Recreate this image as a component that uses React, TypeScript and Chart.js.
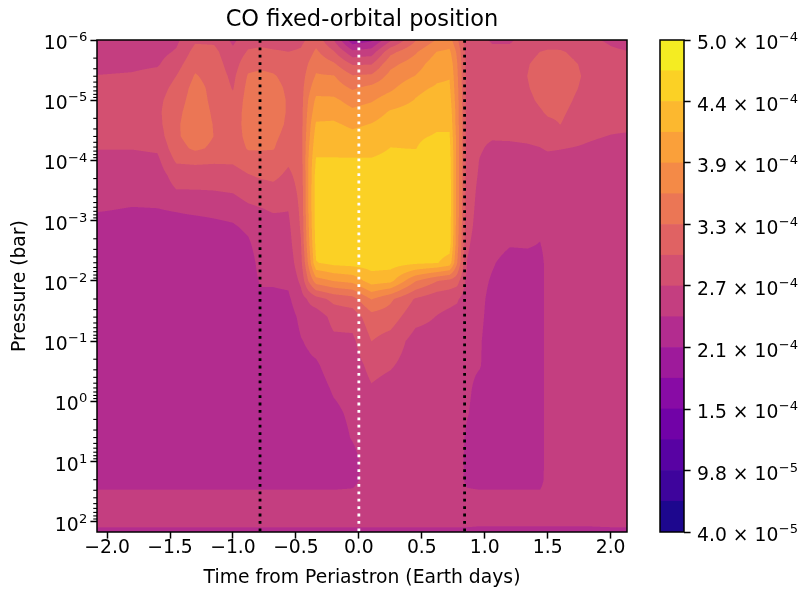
import React, { useEffect, useRef } from "react";
import { Chart, registerables } from "chart.js";

Chart.register(...registerables);

const FONT = "'DejaVu Sans', sans-serif";
const FS = 18.75; // 10 pt at the figure's resolution
const SUP = 13.1; // superscript size

// ---- data -------------------------------------------------------------
// time from periastron (Earth days) of each model column
const times = [-2.08, -1.8, -1.6, -1.45, -1.3, -1.15, -1.0, -0.88, -0.78, -0.68, -0.56, -0.46, -0.4, -0.34, -0.2, -0.05, 0.1, 0.25, 0.45, 0.62, 0.72, 0.78, 0.86, 0.96, 1.06, 1.2, 1.34, 1.44, 1.5, 1.6, 1.8, 2.0, 2.13];

// log10 of pressure (bar) of each model level, top of atmosphere first
const logPressures = [-6.0, -5.8, -5.6, -5.4, -5.2, -5.0, -4.8, -4.6, -4.4, -4.2, -4.0, -3.75, -3.5, -3.2, -2.9, -2.6, -2.3, -2.0, -1.7, -1.4, -1.0, -0.6, -0.2, 0.2, 0.6, 1.0, 1.3, 1.6, 1.9, 2.05, 2.17];

// CO abundance (units of 1e-4), one profile per time column, same order as logPressures
const coProfiles: number[][] = [
  /* -2.08 */ [2.53, 2.56, 2.61, 2.71, 2.82, 2.84, 2.84, 2.82, 2.79, 2.71, 2.61, 2.56, 2.53, 2.44, 2.30, 2.27, 2.27, 2.27, 2.27, 2.27, 2.27, 2.27, 2.27, 2.27, 2.27, 2.27, 2.30, 2.50, 2.56, 2.47, 2.30],
  /* -1.80 */ [2.53, 2.59, 2.64, 2.73, 2.84, 2.87, 2.87, 2.84, 2.79, 2.71, 2.61, 2.56, 2.53, 2.40, 2.30, 2.27, 2.27, 2.27, 2.27, 2.27, 2.27, 2.27, 2.27, 2.27, 2.27, 2.27, 2.30, 2.50, 2.56, 2.47, 2.30],
  /* -1.60 */ [2.56, 2.61, 2.67, 2.79, 2.87, 2.92, 2.93, 2.90, 2.84, 2.74, 2.64, 2.56, 2.53, 2.41, 2.30, 2.27, 2.27, 2.27, 2.27, 2.27, 2.27, 2.27, 2.27, 2.27, 2.27, 2.27, 2.30, 2.50, 2.56, 2.47, 2.30],
  /* -1.45 */ [2.64, 2.73, 2.87, 2.99, 3.07, 3.13, 3.19, 3.23, 3.23, 3.16, 3.03, 2.82, 2.69, 2.44, 2.30, 2.27, 2.27, 2.27, 2.27, 2.27, 2.27, 2.27, 2.27, 2.27, 2.27, 2.27, 2.30, 2.50, 2.56, 2.47, 2.30],
  /* -1.30 */ [2.94, 3.09, 3.20, 3.30, 3.38, 3.42, 3.45, 3.45, 3.42, 3.33, 3.05, 2.84, 2.69, 2.48, 2.30, 2.27, 2.27, 2.27, 2.27, 2.27, 2.27, 2.27, 2.27, 2.27, 2.27, 2.27, 2.30, 2.50, 2.56, 2.47, 2.30],
  /* -1.15 */ [2.93, 3.07, 3.13, 3.16, 3.19, 3.20, 3.23, 3.26, 3.27, 3.22, 3.03, 2.84, 2.70, 2.50, 2.34, 2.27, 2.27, 2.27, 2.27, 2.27, 2.27, 2.27, 2.27, 2.27, 2.27, 2.27, 2.30, 2.50, 2.56, 2.47, 2.30],
  /* -1.00 */ [2.64, 2.76, 2.84, 2.92, 2.97, 3.05, 3.10, 3.13, 3.13, 3.10, 3.03, 2.87, 2.73, 2.53, 2.38, 2.27, 2.27, 2.27, 2.27, 2.27, 2.27, 2.27, 2.27, 2.27, 2.27, 2.27, 2.30, 2.50, 2.56, 2.47, 2.30],
  /* -0.88 */ [2.87, 3.02, 3.19, 3.30, 3.36, 3.39, 3.40, 3.39, 3.36, 3.30, 3.13, 2.97, 2.84, 2.64, 2.47, 2.36, 2.27, 2.27, 2.27, 2.27, 2.27, 2.27, 2.27, 2.27, 2.27, 2.27, 2.30, 2.50, 2.56, 2.47, 2.30],
  /* -0.78 */ [2.90, 3.05, 3.22, 3.33, 3.39, 3.42, 3.42, 3.40, 3.38, 3.30, 3.16, 3.02, 2.87, 2.69, 2.59, 2.56, 2.51, 2.44, 2.36, 2.27, 2.27, 2.27, 2.27, 2.27, 2.27, 2.27, 2.30, 2.50, 2.56, 2.47, 2.30],
  /* -0.68 */ [2.87, 3.02, 3.19, 3.30, 3.36, 3.39, 3.39, 3.38, 3.33, 3.29, 3.16, 3.05, 2.90, 2.73, 2.61, 2.59, 2.53, 2.44, 2.36, 2.27, 2.27, 2.27, 2.27, 2.27, 2.27, 2.27, 2.30, 2.50, 2.56, 2.47, 2.30],
  /* -0.56 */ [2.87, 2.99, 3.10, 3.19, 3.23, 3.25, 3.25, 3.23, 3.19, 3.12, 3.03, 2.93, 2.84, 2.71, 2.64, 2.59, 2.53, 2.46, 2.37, 2.30, 2.27, 2.27, 2.27, 2.27, 2.27, 2.27, 2.30, 2.50, 2.56, 2.47, 2.30],
  /* -0.46 */ [2.93, 3.02, 3.07, 3.13, 3.16, 3.16, 3.16, 3.16, 3.16, 3.15, 3.13, 3.10, 3.07, 3.05, 3.02, 2.97, 2.90, 2.76, 2.59, 2.47, 2.40, 2.36, 2.30, 2.27, 2.27, 2.27, 2.30, 2.50, 2.56, 2.47, 2.30],
  /* -0.40 */ [3.02, 3.16, 3.29, 3.39, 3.48, 3.58, 3.65, 3.71, 3.76, 3.82, 3.86, 3.86, 3.86, 3.86, 3.82, 3.76, 3.62, 3.29, 2.73, 2.56, 2.44, 2.37, 2.30, 2.27, 2.27, 2.27, 2.30, 2.50, 2.56, 2.47, 2.30],
  /* -0.34 */ [3.16, 3.33, 3.48, 3.59, 3.74, 3.91, 4.02, 4.17, 4.27, 4.35, 4.45, 4.54, 4.57, 4.57, 4.55, 4.51, 4.41, 3.71, 2.87, 2.53, 2.50, 2.38, 2.30, 2.27, 2.27, 2.27, 2.30, 2.50, 2.56, 2.47, 2.30],
  /* -0.20 */ [2.70, 3.02, 3.32, 3.58, 3.71, 3.91, 4.04, 4.18, 4.27, 4.35, 4.45, 4.57, 4.60, 4.60, 4.60, 4.57, 4.51, 3.86, 3.07, 2.79, 2.64, 2.53, 2.44, 2.36, 2.30, 2.27, 2.30, 2.50, 2.56, 2.47, 2.30],
  /* -0.05 */ [1.92, 2.50, 2.96, 3.30, 3.53, 3.74, 3.91, 4.08, 4.22, 4.34, 4.45, 4.57, 4.61, 4.61, 4.60, 4.58, 4.54, 3.94, 3.16, 2.82, 2.64, 2.56, 2.50, 2.46, 2.43, 2.33, 2.33, 2.50, 2.56, 2.47, 2.30],
  /*  0.10 */ [2.07, 2.56, 2.97, 3.33, 3.65, 3.82, 3.99, 4.15, 4.27, 4.34, 4.45, 4.57, 4.61, 4.61, 4.60, 4.58, 4.55, 4.28, 3.58, 3.16, 2.99, 2.79, 2.67, 2.59, 2.56, 2.56, 2.56, 2.56, 2.56, 2.47, 2.30],
  /*  0.25 */ [2.64, 3.19, 3.48, 3.65, 3.79, 3.99, 4.17, 4.28, 4.37, 4.43, 4.50, 4.57, 4.61, 4.61, 4.60, 4.58, 4.55, 4.22, 3.33, 3.13, 2.87, 2.73, 2.59, 2.56, 2.56, 2.56, 2.56, 2.56, 2.56, 2.47, 2.30],
  /*  0.45 */ [3.25, 3.53, 3.71, 3.86, 4.08, 4.15, 4.25, 4.34, 4.40, 4.42, 4.51, 4.58, 4.61, 4.61, 4.60, 4.58, 4.48, 3.58, 2.96, 2.79, 2.59, 2.56, 2.56, 2.56, 2.56, 2.56, 2.56, 2.56, 2.56, 2.47, 2.30],
  /*  0.62 */ [3.58, 3.86, 4.02, 4.09, 4.17, 4.25, 4.34, 4.40, 4.44, 4.51, 4.57, 4.60, 4.61, 4.60, 4.58, 4.57, 4.44, 3.29, 2.79, 2.69, 2.59, 2.56, 2.56, 2.56, 2.56, 2.56, 2.56, 2.56, 2.56, 2.47, 2.30],
  /*  0.72 */ [3.68, 3.91, 4.05, 4.12, 4.18, 4.25, 4.32, 4.38, 4.45, 4.51, 4.54, 4.57, 4.58, 4.58, 4.57, 4.54, 4.31, 3.19, 2.76, 2.64, 2.57, 2.56, 2.56, 2.56, 2.56, 2.56, 2.56, 2.56, 2.56, 2.47, 2.30],
  /*  0.78 */ [3.33, 3.51, 3.58, 3.62, 3.65, 3.68, 3.71, 3.71, 3.74, 3.74, 3.74, 3.74, 3.74, 3.74, 3.71, 3.68, 3.58, 3.10, 2.73, 2.61, 2.56, 2.56, 2.56, 2.56, 2.56, 2.56, 2.56, 2.56, 2.56, 2.47, 2.30],
  /*  0.86 */ [2.79, 2.84, 2.87, 2.87, 2.87, 2.87, 2.87, 2.87, 2.87, 2.87, 2.86, 2.84, 2.83, 2.82, 2.79, 2.74, 2.69, 2.61, 2.56, 2.53, 2.50, 2.47, 2.46, 2.43, 2.36, 2.33, 2.34, 2.50, 2.56, 2.47, 2.30],
  /*  0.96 */ [2.76, 2.82, 2.84, 2.84, 2.84, 2.84, 2.82, 2.79, 2.76, 2.73, 2.69, 2.67, 2.64, 2.61, 2.59, 2.56, 2.53, 2.50, 2.48, 2.47, 2.44, 2.43, 2.33, 2.30, 2.27, 2.27, 2.30, 2.50, 2.56, 2.44, 2.30],
  /*  1.06 */ [2.67, 2.76, 2.80, 2.82, 2.82, 2.80, 2.79, 2.76, 2.73, 2.64, 2.59, 2.56, 2.56, 2.56, 2.54, 2.53, 2.44, 2.38, 2.33, 2.30, 2.27, 2.27, 2.27, 2.27, 2.27, 2.27, 2.30, 2.50, 2.56, 2.44, 2.30],
  /*  1.20 */ [2.67, 2.76, 2.83, 2.86, 2.87, 2.87, 2.84, 2.80, 2.74, 2.64, 2.59, 2.56, 2.56, 2.54, 2.50, 2.43, 2.30, 2.27, 2.27, 2.27, 2.27, 2.27, 2.27, 2.27, 2.27, 2.27, 2.30, 2.50, 2.56, 2.44, 2.30],
  /*  1.34 */ [2.79, 2.90, 2.97, 2.99, 2.97, 2.93, 2.87, 2.82, 2.76, 2.66, 2.59, 2.56, 2.56, 2.53, 2.48, 2.44, 2.31, 2.27, 2.27, 2.27, 2.27, 2.27, 2.27, 2.27, 2.27, 2.27, 2.30, 2.50, 2.56, 2.44, 2.30],
  /*  1.44 */ [2.84, 2.99, 3.07, 3.09, 3.07, 3.03, 2.96, 2.87, 2.79, 2.69, 2.60, 2.56, 2.56, 2.53, 2.47, 2.40, 2.30, 2.28, 2.28, 2.28, 2.28, 2.28, 2.28, 2.28, 2.28, 2.28, 2.30, 2.50, 2.56, 2.44, 2.30],
  /*  1.50 */ [2.86, 3.02, 3.10, 3.12, 3.10, 3.07, 3.02, 2.93, 2.83, 2.73, 2.61, 2.56, 2.56, 2.56, 2.54, 2.53, 2.53, 2.53, 2.53, 2.53, 2.53, 2.53, 2.53, 2.53, 2.53, 2.54, 2.54, 2.56, 2.56, 2.44, 2.30],
  /*  1.60 */ [2.84, 3.02, 3.10, 3.12, 3.10, 3.07, 3.03, 2.99, 2.84, 2.71, 2.61, 2.56, 2.56, 2.56, 2.56, 2.56, 2.56, 2.56, 2.56, 2.56, 2.56, 2.56, 2.56, 2.56, 2.56, 2.56, 2.56, 2.56, 2.56, 2.44, 2.30],
  /*  1.80 */ [2.76, 2.87, 2.94, 2.96, 2.94, 2.90, 2.86, 2.82, 2.74, 2.67, 2.63, 2.57, 2.56, 2.56, 2.56, 2.56, 2.56, 2.56, 2.56, 2.56, 2.56, 2.56, 2.56, 2.56, 2.56, 2.56, 2.56, 2.56, 2.56, 2.44, 2.30],
  /*  2.00 */ [2.66, 2.74, 2.80, 2.84, 2.86, 2.84, 2.82, 2.76, 2.69, 2.61, 2.59, 2.56, 2.56, 2.56, 2.56, 2.56, 2.56, 2.56, 2.56, 2.56, 2.56, 2.56, 2.56, 2.56, 2.56, 2.56, 2.56, 2.56, 2.56, 2.47, 2.30],
  /*  2.13 */ [2.61, 2.71, 2.79, 2.83, 2.84, 2.84, 2.82, 2.76, 2.67, 2.61, 2.59, 2.56, 2.56, 2.56, 2.56, 2.56, 2.56, 2.56, 2.56, 2.56, 2.56, 2.56, 2.56, 2.56, 2.56, 2.56, 2.56, 2.56, 2.56, 2.47, 2.30],
];

// contour levels (units of 1e-4) and their fill colours (plasma)
const levels = [0.4, 0.6875, 0.975, 1.2625, 1.55, 1.8375, 2.125, 2.4125, 2.7, 2.9875, 3.275, 3.5625, 3.85, 4.1375, 4.425, 4.7125, 5.0];
const levelColors = ["#1d078e", "#3e049c", "#5802a3", "#7102a7", "#880ba5", "#9e1a9b", "#b32c8f", "#c43e80", "#d35071", "#e06263", "#eb7655", "#f48a47", "#faa03a", "#fcb82f", "#fbd125", "#f4ec22"];

// colour-bar ticks: [mantissa × 10, exponent]
const colorbarTicks = [0.4, 0.975, 1.55, 2.125, 2.7, 3.275, 3.85, 4.425, 5.0];
const colorbarTickLabels = [
  ["4.0 × 10", "−5"], ["9.8 × 10", "−5"], ["1.5 × 10", "−4"], ["2.1 × 10", "−4"], ["2.7 × 10", "−4"],
  ["3.3 × 10", "−4"], ["3.9 × 10", "−4"], ["4.4 × 10", "−4"], ["5.0 × 10", "−4"],
];

const xRange = [-2.08, 2.13];
const xTickValues = [-2.0, -1.5, -1.0, -0.5, 0.0, 0.5, 1.0, 1.5, 2.0];
const xTickLabels = ["−2.0", "−1.5", "−1.0", "−0.5", "0.0", "0.5", "1.0", "1.5", "2.0"];

const pressureRange = [1e-6, 148];
const yTickValues = [1e-6, 1e-5, 1e-4, 1e-3, 1e-2, 1e-1, 1, 10, 100];
const yTickLabels = [["10", "−6"], ["10", "−5"], ["10", "−4"], ["10", "−3"], ["10", "−2"], ["10", "−1"], ["10", "0"], ["10", "1"], ["10", "2"]];

// orbital markers (days from periastron)
const markerTimes = [-0.785, 0.0, 0.84];
const markerColors = ["#000000", "#ffffff", "#000000"];

// ---- helpers ---------------------------------------------------------
function hexToRgb(h: string) {
  const n = parseInt(h.slice(1), 16);
  return [(n >> 16) & 255, (n >> 8) & 255, n & 255];
}

function locate(arr: number[], v: number): [number, number] {
  const last = arr.length - 1;
  if (v <= arr[0]) return [0, 0];
  if (v >= arr[last]) return [last - 1, 1];
  let k = 0;
  while (k < last - 1 && arr[k + 1] < v) k++;
  return [k, (v - arr[k]) / (arr[k + 1] - arr[k])];
}

function bandOf(v: number) {
  for (let k = 0; k < levels.length - 1; k++) {
    if (v < levels[k + 1]) return k;
  }
  return levels.length - 2;
}

// draw "base^sup" text; align 'right' -> x is right edge, 'left' -> x is left edge
function drawMath(ctx: CanvasRenderingContext2D, x: number, baseline: number, base: string, sup: string, align: "left" | "right") {
  ctx.save();
  ctx.fillStyle = "#000";
  ctx.textBaseline = "alphabetic";
  ctx.textAlign = "left";
  ctx.font = `${FS}px ${FONT}`;
  const wb = ctx.measureText(base).width;
  ctx.font = `${SUP}px ${FONT}`;
  const ws = ctx.measureText(sup).width;
  const x0 = align === "right" ? x - wb - ws - 0.5 : x;
  ctx.font = `${FS}px ${FONT}`;
  ctx.fillText(base, x0, baseline);
  ctx.font = `${SUP}px ${FONT}`;
  ctx.fillText(sup, x0 + wb + 0.5, baseline - 0.42 * FS);
  ctx.restore();
}

const fieldPlugin = {
  id: "coField",
  beforeDatasetsDraw(chart: any) {
    const { ctx, chartArea: a } = chart;
    const xs = chart.scales.x;
    const ys = chart.scales.y;
    const w = Math.round(a.right - a.left);
    const h = Math.round(a.bottom - a.top);
    const S = 3;
    const rgb = levelColors.map(hexToRgb);
    const cI = new Int32Array(w * S), cF = new Float64Array(w * S);
    for (let i = 0; i < w * S; i++) {
      const t = xs.getValueForPixel(a.left + (i + 0.5) / S);
      const [k, f] = locate(times, t);
      cI[i] = k; cF[i] = f;
    }
    const rI = new Int32Array(h * S), rF = new Float64Array(h * S);
    for (let j = 0; j < h * S; j++) {
      const p = ys.getValueForPixel(a.top + (j + 0.5) / S);
      const [k, f] = locate(logPressures, Math.log10(p));
      rI[j] = k; rF[j] = f;
    }
    const img = ctx.createImageData(w, h);
    const d = img.data;
    for (let py = 0; py < h; py++) {
      for (let px = 0; px < w; px++) {
        let r = 0, g = 0, b = 0;
        for (let sy = 0; sy < S; sy++) {
          const j = py * S + sy;
          const rj = rI[j], fy = rF[j];
          for (let sx = 0; sx < S; sx++) {
            const i = px * S + sx;
            const ci = cI[i], fx = cF[i];
            const c0 = coProfiles[ci], c1 = coProfiles[ci + 1];
            const v0 = c0[rj] + (c0[rj + 1] - c0[rj]) * fy;
            const v1 = c1[rj] + (c1[rj + 1] - c1[rj]) * fy;
            const v = v0 + (v1 - v0) * fx;
            const col = rgb[bandOf(v)];
            r += col[0]; g += col[1]; b += col[2];
          }
        }
        const o = (py * w + px) * 4;
        const n = S * S;
        d[o] = r / n; d[o + 1] = g / n; d[o + 2] = b / n; d[o + 3] = 255;
      }
    }
    const off = document.createElement("canvas");
    off.width = w; off.height = h;
    (off.getContext("2d") as CanvasRenderingContext2D).putImageData(img, 0, 0);
    ctx.drawImage(off, a.left, a.top);
  },
};

const framePlugin = {
  id: "frame",
  afterDatasetsDraw(chart: any) {
    const { ctx, chartArea: a } = chart;
    ctx.save();
    ctx.strokeStyle = "#000";
    ctx.lineWidth = 1.5;
    ctx.strokeRect(a.left, a.top, a.right - a.left, a.bottom - a.top);
    ctx.restore();
  },
};

const yAxisPlugin = {
  id: "yAxisDecor",
  afterDraw(chart: any) {
    const { ctx, chartArea: a } = chart;
    const ys = chart.scales.y;
    ctx.save();
    ctx.strokeStyle = "#000";
    ctx.lineWidth = 1.1;
    for (let n = -6; n <= 2; n++) {
      for (let k = 2; k <= 9; k++) {
        const v = k * Math.pow(10, n);
        if (v < pressureRange[0] || v > pressureRange[1]) continue;
        const y = ys.getPixelForValue(v);
        ctx.beginPath();
        ctx.moveTo(a.left - 3.75, y);
        ctx.lineTo(a.left, y);
        ctx.stroke();
      }
    }
    ctx.restore();
    yTickValues.forEach((v, i) => {
      const y = ys.getPixelForValue(v);
      drawMath(ctx, a.left - 6.6 - 3, y + 9, yTickLabels[i][0], yTickLabels[i][1], "right");
    });
  },
};

const cbLabelPlugin = {
  id: "cbLabels",
  afterDraw(chart: any) {
    const { ctx, chartArea: a } = chart;
    const ys = chart.scales.y;
    colorbarTicks.forEach((v, i) => {
      const y = ys.getPixelForValue(v);
      drawMath(ctx, a.right + 6.6 + 6.4, y + 9, colorbarTickLabels[i][0], colorbarTickLabels[i][1], "left");
    });
  },
};

const gridOpts = { drawOnChartArea: false, drawTicks: true, tickLength: 6.6, tickColor: "#000", tickWidth: 1.5 };

export default function App() {
  const mainRef = useRef<HTMLCanvasElement>(null);
  const cbRef = useRef<HTMLCanvasElement>(null);

  useEffect(() => {
    const main = new Chart(mainRef.current as HTMLCanvasElement, {
      type: "scatter",
      data: {
        datasets: markerTimes.map((t, i) => ({
          data: [
            { x: t, y: pressureRange[0] },
            { x: t, y: pressureRange[1] },
          ],
          showLine: true,
          borderColor: markerColors[i],
          borderWidth: 2.8,
          borderDash: [2.8, 4.6],
          pointRadius: 0,
          fill: false,
        })),
      },
      options: {
        responsive: false,
        animation: false,
        devicePixelRatio: 1,
        events: [],
        layout: { padding: { left: 0, right: 174, top: 0, bottom: 0 } },
        plugins: {
          legend: { display: false },
          tooltip: { enabled: false },
          title: {
            display: true,
            fullSize: false,
            text: "CO fixed-orbital position",
            color: "#000",
            font: { family: FONT, size: 22.5, weight: "normal", lineHeight: "27px" },
            padding: { top: 6.5, bottom: 6.5 },
          },
        },
        scales: {
          x: {
            type: "linear",
            min: xRange[0],
            max: xRange[1],
            afterBuildTicks: (s: any) => {
              s.ticks = xTickValues.map((v) => ({ value: v }));
            },
            afterFit: (s: any) => {
              s.height = 62;
            },
            ticks: {
              callback: (_v: any, i: number) => xTickLabels[i],
              font: { family: FONT, size: FS, lineHeight: 1 },
              color: "#000",
              padding: 0.5,
              maxRotation: 0,
              autoSkip: false,
            },
            grid: gridOpts,
            border: { display: false },
            title: {
              display: true,
              text: "Time from Periastron (Earth days)",
              color: "#000",
              font: { family: FONT, size: FS, lineHeight: 1.2 },
              padding: { top: 0, bottom: 4.75 },
            },
          },
          y: {
            type: "logarithmic",
            reverse: true,
            min: pressureRange[0],
            max: pressureRange[1],
            afterBuildTicks: (s: any) => {
              s.ticks = yTickValues.map((v) => ({ value: v, major: true }));
            },
            afterFit: (s: any) => {
              s.width = 97;
            },
            ticks: { display: false, autoSkip: false },
            grid: gridOpts,
            border: { display: false },
            title: {
              display: true,
              text: "Pressure (bar)",
              color: "#000",
              font: { family: FONT, size: FS, lineHeight: 1.2 },
              padding: { top: 8.75, bottom: 0 },
            },
          },
        },
      } as any,
      plugins: [fieldPlugin, framePlugin, yAxisPlugin],
    });

    const cb = new Chart(cbRef.current as HTMLCanvasElement, {
      type: "bar",
      data: {
        labels: [""],
        datasets: levelColors.map((c, i) => ({
          data: [[levels[i], levels[i + 1]]],
          backgroundColor: c,
          borderWidth: 0,
          grouped: false,
          barPercentage: 1,
          categoryPercentage: 1,
        })),
      } as any,
      options: {
        responsive: false,
        animation: false,
        devicePixelRatio: 1,
        events: [],
        layout: { padding: { left: 20, right: 0, top: 40, bottom: 62 } },
        plugins: { legend: { display: false }, tooltip: { enabled: false } },
        scales: {
          x: { display: false },
          y: {
            position: "right",
            min: levels[0],
            max: levels[levels.length - 1],
            afterBuildTicks: (s: any) => {
              s.ticks = colorbarTicks.map((v) => ({ value: v }));
            },
            afterFit: (s: any) => {
              s.width = 117;
            },
            ticks: { display: false, autoSkip: false },
            grid: gridOpts,
            border: { display: false },
          },
        },
      } as any,
      plugins: [framePlugin, cbLabelPlugin],
    });

    return () => {
      main.destroy();
      cb.destroy();
    };
  }, []);

  return (
    <div style={{ position: "fixed", left: 0, top: 0, width: 801, height: 594, background: "#fff" }}>
      <canvas ref={mainRef} width={801} height={594} style={{ position: "absolute", left: 0, top: 0 }} />
      <canvas ref={cbRef} width={161} height={594} style={{ position: "absolute", left: 640, top: 0 }} />
    </div>
  );
}
